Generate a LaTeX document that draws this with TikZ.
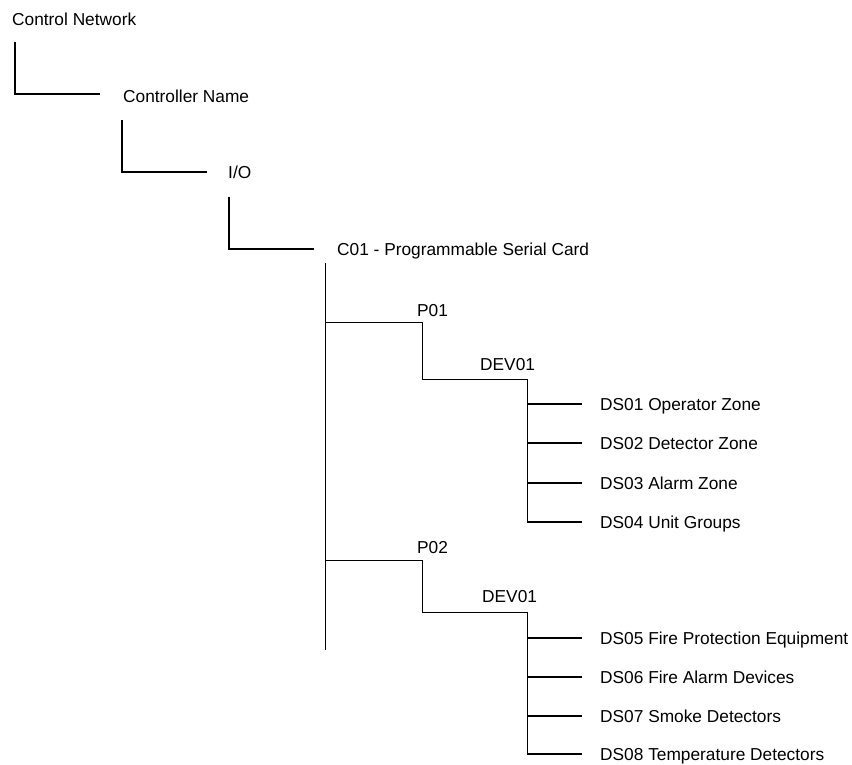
\documentclass[tikz,border=0pt]{standalone}
\usepackage{fontspec}
\setmainfont{Liberation Sans}
\begin{document}
\begin{tikzpicture}[x=1pt,y=-1pt,
  lbl/.style={anchor=west,inner sep=0pt,font=\fontsize{17.3}{20}\selectfont,text height=12.4pt,text depth=0pt},
  conn/.style={draw=black,line width=1.2pt},
  thin/.style={draw=black,line width=1pt}]
\useasboundingbox[fill=white] (0,0) rectangle (852,764);
% labels
\node[lbl] (cn) at (12,19) {Control Network};
\node[lbl] (ctl) at (123,96) {Controller Name};
\node[lbl] (io) at (228,172) {I/O};
\node[lbl] (c01) at (337,249) {C01 - Programmable Serial Card};
\node[lbl] (p01) at (417,310) {P01};
\node[lbl] (dva) at (480,364) {DEV01};
\node[lbl] (ds1) at (600,404) {DS01 Operator Zone};
\node[lbl] (ds2) at (600,443) {DS02 Detector Zone};
\node[lbl] (ds3) at (600,483) {DS03 Alarm Zone};
\node[lbl] (ds4) at (600,522) {DS04 Unit Groups};
\node[lbl] (p02) at (417,547) {P02};
\node[lbl] (dvb) at (482,596) {DEV01};
\node[lbl] (ds5) at (600,638) {DS05 Fire Protection Equipment};
\node[lbl] (ds6) at (600,677) {DS06 Fire Alarm Devices};
\node[lbl] (ds7) at (600,716) {DS07 Smoke Detectors};
\node[lbl] (ds8) at (600,754) {DS08 Temperature Detectors};
% connector endpoints
\coordinate (cnT) at (15,42);
\coordinate (ctlE) at (100,94);
\coordinate (ctlT) at (122,120);
\coordinate (ioE) at (207,172);
\coordinate (ioT) at (229,197);
\coordinate (c01E) at (314,249);
\coordinate (busT) at (325,263);
\coordinate (busB) at (325,650);
\coordinate (busA) at (325,322);
\coordinate (busC) at (325,560);
\coordinate (pA) at (422,322);
\coordinate (pAB) at (422,379);
\coordinate (dA) at (527,379);
\coordinate (pB) at (422,560);
\coordinate (pBB) at (422,612);
\coordinate (dB) at (527,612);
\foreach \n/\y in {1/404,2/443,3/483,4/522,5/638,6/677,7/716,8/754}{
  \coordinate (s\n) at (527,\y);
  \coordinate (e\n) at (582,\y);
}
% connectors
\draw[conn] (cnT) |- (ctlE);
\draw[conn] (ctlT) |- (ioE);
\draw[conn] (ioT) |- (c01E);
\draw[thin] (busT) -- (busB);
\draw[thin] (busA) -- (pA) -- (pAB) -- (dA) -- (s4);
\draw[thin] (busC) -- (pB) -- (pBB) -- (dB) -- (s8);
\foreach \n in {1,...,8}{\draw[conn] (s\n) -- (e\n);}
\end{tikzpicture}
\end{document}
